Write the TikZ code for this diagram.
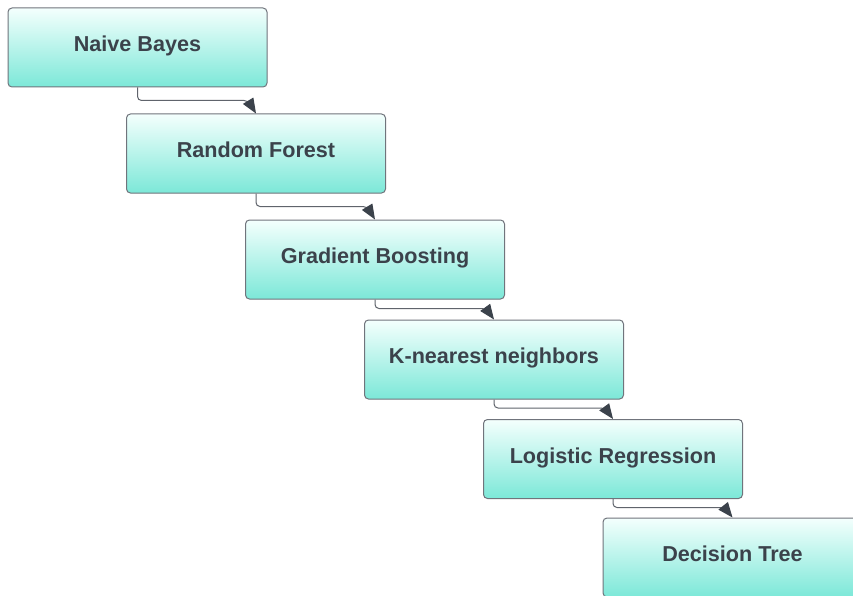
\documentclass[tikz,border=0pt]{standalone}
\usepackage{fontspec}
\setmainfont{Liberation Sans}
\usetikzlibrary{arrows.meta,calc}
\definecolor{boxtop}{RGB}{244,255,253}
\definecolor{boxbot}{RGB}{124,232,216}
\definecolor{boxedge}{RGB}{112,116,124}
\definecolor{ink}{RGB}{59,66,75}
\definecolor{linegray}{RGB}{96,100,108}
\tikzset{
  stage/.style={draw=boxedge, line width=1pt, rounded corners=4pt,
    top color=boxtop, bottom color=boxbot,
    minimum width=259pt, minimum height=79pt, inner sep=0pt},
  stagetext/.style={font=\fontsize{21.6}{24}\selectfont\bfseries, text=ink, anchor=base, inner sep=0pt},
  conn/.style={draw=linegray, line width=1pt, rounded corners=4pt,
    -{Triangle[length=15pt,width=12pt,fill=ink,color=ink]}}
}
\newcommand{\stage}[4]{%
  \node[stage] (#1) at (#2,#3) {};
  \node[stagetext] (#1t) at ($(#1.center)+(0,4.2)$) {#4};
}
\begin{document}
\begin{tikzpicture}[x=1pt,y=-1pt]
  \useasboundingbox (0,0) rectangle (853,596);
  \clip (0,0) rectangle (853,596);
  \fill[white] (0,0) rectangle (853,596);
  \stage{nb}{137.5}{47.5}{Naive Bayes}
  \stage{rf}{256}{153.5}{Random Forest}
  \stage{gb}{375}{259.5}{Gradient Boosting}
  \stage{knn}{494}{359.5}{K-nearest neighbors}
  \stage{lr}{613}{459}{Logistic Regression}
  \stage{dt}{732.5}{557.5}{Decision Tree}
  \draw[conn] (nb.south) |- ($(rf.north)+(-8,-13)$) -- (rf.north);
  \draw[conn] (rf.south) |- ($(gb.north)+(-8,-13)$) -- (gb.north);
  \draw[conn] (gb.south) |- ($(knn.north)+(-8,-11)$) -- (knn.north);
  \draw[conn] (knn.south) |- ($(lr.north)+(-8,-11)$) -- (lr.north);
  \draw[conn] (lr.south) |- ($(dt.north)+(-8,-10)$) -- (dt.north);
\end{tikzpicture}
\end{document}
